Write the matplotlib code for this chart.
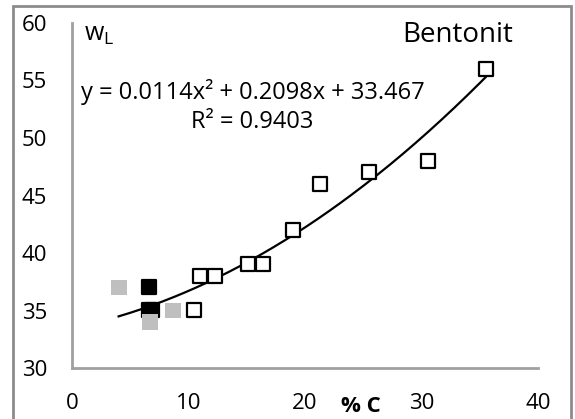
import matplotlib.pyplot as plt
import numpy as np
from matplotlib.patches import Rectangle

plt.rcParams['font.family'] = ['Open Sans', 'DejaVu Sans']
plt.rcParams['mathtext.default'] = 'regular'

# clay content (% C) vs liquid limit w_L
x_open = [10.5, 11.0, 12.3, 15.1, 16.4, 19.0, 21.3, 25.5, 30.6, 35.5]
y_open = [35, 38, 38, 39, 39, 42, 46, 47, 48, 56]
x_black = [6.6, 6.6, 6.85]
y_black = [37, 35, 35]
x_gray = [4.05, 6.7, 8.7]
y_gray = [37, 34, 35]

# quadratic trend
coef = [0.0114, 0.2098, 33.467]
r2 = 0.9403
x_fit_range = [4.0, 35.5]

fig = plt.figure(figsize=(5.75, 4.19), dpi=100)
ax = fig.add_axes([72 / 575, 51 / 419, 466 / 575, 345 / 419])

xs = np.linspace(x_fit_range[0], x_fit_range[1], 200)
ax.plot(xs, np.polyval(coef, xs), color='black', lw=1.6, zorder=2)

ax.scatter(x_open, y_open, marker='s', s=110, facecolor='white',
           edgecolor='black', linewidth=1.6, zorder=3)
ax.scatter(x_black, y_black, marker='s', s=110, facecolor='black',
           edgecolor='black', linewidth=1.6, zorder=4)
ax.scatter(x_gray, y_gray, marker='s', s=130, facecolor='#bfbfbf',
           edgecolor='none', zorder=5)

ax.set_xlim(0, 40)
ax.set_ylim(30, 60)
ax.set_xticks([0, 10, 20, 30, 40])
ax.set_yticks([30, 35, 40, 45, 50, 55, 60])
ax.tick_params(length=0, labelsize=16, colors='black')
ax.tick_params(axis='y', pad=18)
ax.tick_params(axis='x', pad=18)
for s in ['top', 'right']:
    ax.spines[s].set_visible(False)
for s in ['left', 'bottom']:
    ax.spines[s].set_color('#a0a0a0')
    ax.spines[s].set_linewidth(2)

ax.text(1.0, 59.0, 'w$_{L}$', fontsize=18, va='center', ha='left')
ax.text(37.85, 59.0, 'Bentonit', fontsize=20, va='center', ha='right')
ax.text(0.8, 54.0,
        f'y = {coef[0]}x² + {coef[1]}x + {coef[2]}',
        fontsize=17, va='center', ha='left')
ax.text(15.5, 51.4, f'R² = {r2}', fontsize=17, va='center', ha='center')
fig.text(361 / 575, 13 / 419, '% C', fontsize=16, fontweight='bold',
         ha='center', va='center')

fig.patches.append(Rectangle((13 / 575, -0.05), 558 / 575, 1.05 - 6 / 419,
                             transform=fig.transFigure, fill=False,
                             edgecolor='#8c8c8c', linewidth=2))

fig.savefig('out.png', dpi=100)
